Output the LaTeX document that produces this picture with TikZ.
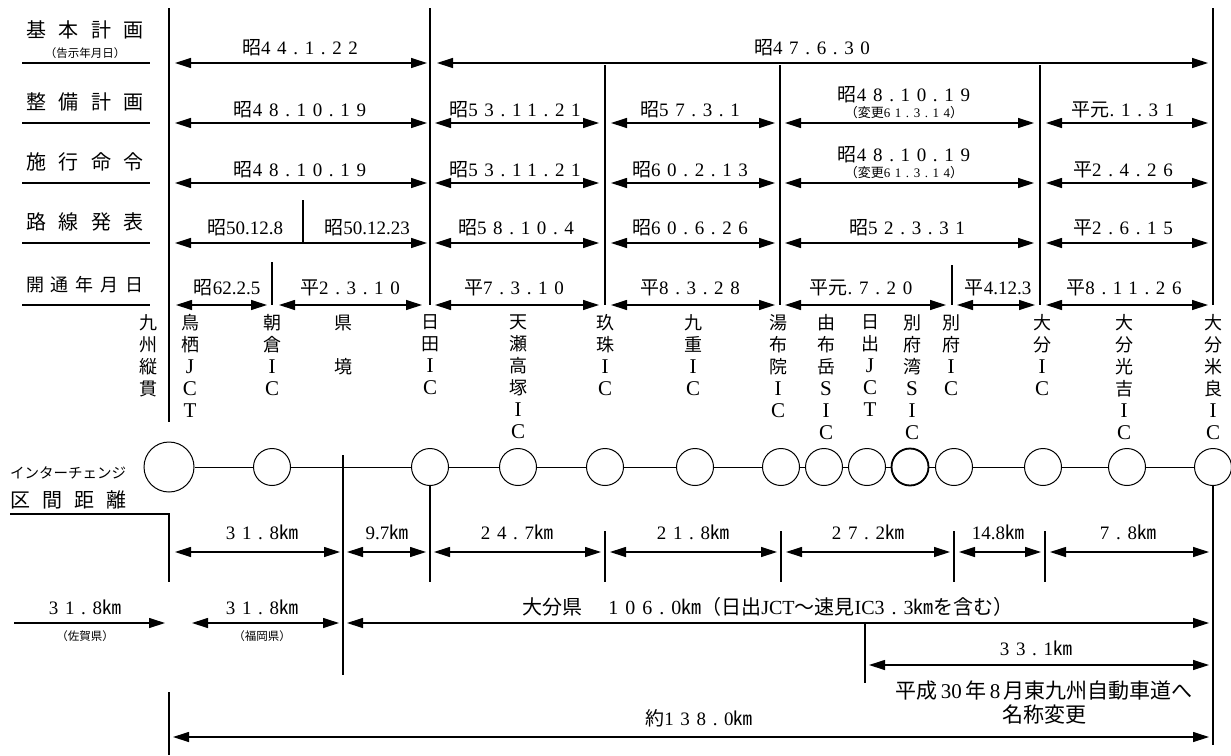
\documentclass[tikz,border=0pt]{standalone}
\usepackage{fontspec}
\setmainfont{Noto Sans CJK JP}
\newfontfamily\sr{Liberation Serif}
\newfontfamily\wide{Liberation Serif}[LetterSpace=35]
\newcommand\latn[1]{{\sr\fontsize{21}{22}\selectfont #1}}
\usetikzlibrary{arrows.meta}

\begin{document}
\begin{tikzpicture}[x=1pt,y=-1pt,line width=1.2pt,
  every node/.style={inner sep=0pt},
  span/.style={{Triangle[length=16pt,width=10pt]}-{Triangle[length=16pt,width=10pt]}},
  oneway/.style={-{Triangle[length=16pt,width=10pt]}},
  date/.style={font=\fontsize{19}{21}\selectfont},
  small/.style={font=\fontsize{11.5}{13}\selectfont},
  head/.style={font=\fontsize{20}{22}\selectfont},
  icname/.style={anchor=north,align=center,font=\fontsize{18}{22}\selectfont},
  ic/.style={draw,circle,minimum size=37pt,line width=1pt}]
\useasboundingbox (0,0) rectangle (1231,755);

% Row labels on the left
\node[head] (lbA) at (85,30) {基\hspace{12pt}本\hspace{12pt}計\hspace{12pt}画};
\node[small] (lbAs) at (85,53) {（告示年月日）};
\node[head] (lbB) at (85,102) {整\hspace{12pt}備\hspace{12pt}計\hspace{12pt}画};
\node[head] (lbC) at (85,162) {施\hspace{12pt}行\hspace{12pt}命\hspace{12pt}令};
\node[head] (lbD) at (85,222) {路\hspace{12pt}線\hspace{12pt}発\hspace{12pt}表};
\node[font=\fontsize{18}{20}\selectfont] (lbE) at (85,285) {開\hspace{7pt}通\hspace{7pt}年\hspace{7pt}月\hspace{7pt}日};
\node[font=\fontsize{14.5}{16}\selectfont] (lbF) at (68,473) {インターチェンジ};
\node[head] (lbG) at (68,500) {区\hspace{12pt}間\hspace{12pt}距\hspace{12pt}離};
\foreach \y in {63,123,183,243,305}
  \draw (22,\y) -- (150,\y);
\draw (10,514) -- (169,514) -- (169,582);

% Long vertical lines
\draw (169,8) -- (169,422);
\draw (430,8) -- (430,305);
\draw (1213,8) -- (1213,305);
\foreach \x in {605,780,1040}
  \draw (\x,65) -- (\x,305);
\draw (303,200) -- (303,243);
\draw (272,262) -- (272,305);
\draw (952,265) -- (952,305);

% Date arrows
\foreach \a/\b/\y in {175/427/63, 437/1208/63,
    175/427/123, 435/599/123, 611/775/123, 785/1034/123, 1046/1208/123,
    175/427/183, 435/599/183, 611/775/183, 785/1034/183, 1046/1208/183,
    175/427/243, 435/599/243, 611/775/243, 785/1034/243, 1046/1208/243,
    176/267/305, 279/422/305, 435/599/305, 611/775/305, 785/946/305, 957/1035/305, 1046/1208/305}
  \draw[span] (\a,\y) -- (\b,\y);

% Dates
\foreach \x/\y/\e/\t in {300/48/昭/44.1.22, 812/48/昭/47.6.30,
    300/110/昭/48.10.19, 515/110/昭/53.11.21, 690/110/昭/57.3.1, 904/95/昭/48.10.19, 1123/110/平元/.1.31,
    300/170/昭/48.10.19, 515/170/昭/53.11.21, 690/170/昭/60.2.13, 904/155/昭/48.10.19, 1123/170/平/2.4.26,
    516/228/昭/58.10.4, 690/228/昭/60.6.26, 907/228/昭/52.3.31, 1123/228/平/2.6.15,
    350/288/平/2.3.10, 514/288/平/7.3.10, 690/288/平/8.3.28, 861/288/平元/.7.20, 1124/288/平/8.11.26}
  \node[date] at (\x,\y) {\e{\wide\t}};
\foreach \x/\y/\e/\t in {245/228/昭/50.12.8, 367/228/昭/50.12.23, 227/288/昭/62.2.5, 998/288/平/4.12.3}
  \node[date] at (\x,\y) {\e{\sr\t}};
\node[small,font=\fontsize{13}{14}\selectfont] (chgB) at (904,113) {（変更{\wide 61.3.14}）};
\node[small,font=\fontsize{13}{14}\selectfont] (chgC) at (904,173) {（変更{\wide 61.3.14}）};

% Interchange names
\foreach \x/\t in {148/{九\\州\\縦\\貫}, 190/{鳥\\栖\\\latn{J}\\\latn{C}\\\latn{T}}, 272/{朝\\倉\\\latn{I}\\\latn{C}}, 343/{県\\[22pt]境},
    430/{日\\田\\\latn{I}\\\latn{C}}, 518/{天\\瀬\\高\\塚\\\latn{I}\\\latn{C}}, 605/{玖\\珠\\\latn{I}\\\latn{C}}, 693/{九\\重\\\latn{I}\\\latn{C}},
    778/{湯\\布\\院\\\latn{I}\\\latn{C}}, 826/{由\\布\\岳\\\latn{S}\\\latn{I}\\\latn{C}}, 870/{日\\出\\\latn{J}\\\latn{C}\\\latn{T}},
    912/{別\\府\\湾\\\latn{S}\\\latn{I}\\\latn{C}}, 951/{別\\府\\\latn{I}\\\latn{C}}, 1042/{大\\分\\\latn{I}\\\latn{C}},
    1124/{大\\分\\光\\吉\\\latn{I}\\\latn{C}}, 1213/{大\\分\\米\\良\\\latn{I}\\\latn{C}}}
  \node[icname] at (\x,314) {\t};

% Interchange circles and the road
\node[ic,minimum size=50pt] (c-tosu) at (169,467) {};
\foreach \n/\x in {asakura/272, hita/430, amase/518, kusu/605, kokonoe/695, yufuin/781, yufudake/824,
    hiji/867, beppuwan/910, beppu/954, oita/1043, mitsuyoshi/1127, mera/1213}
  \node[ic] (c-\n) at (\x,467) {};
\draw[line width=1.8pt] (c-beppuwan) circle[radius=18.5pt];
\foreach \a/\b in {tosu/asakura, asakura/hita, hita/amase, amase/kusu, kusu/kokonoe, kokonoe/yufuin,
    yufuin/yufudake, yufudake/hiji, hiji/beppuwan, beppuwan/beppu, beppu/oita, oita/mitsuyoshi, mitsuyoshi/mera}
  \draw[line width=1pt] (c-\a) -- (c-\b);

% Prefecture border and section ticks
\draw (343,455) -- (343,675);
\draw (c-hita.south) -- (430,582);
\draw (c-mera.south) -- (1213,745);
\foreach \x in {605,781,954,1045}
  \draw (\x,531) -- (\x,582);

% Section distances
\foreach \a/\b in {175/340, 347/426, 434/601, 610/777, 786/950, 959/1041, 1050/1209}
  \draw[span] (\a,552) -- (\b,552);
\foreach \x/\t in {262/31.8, 517/24.7, 693/21.8, 868/27.2, 1128/7.8}
  \node[date] at (\x,532) {{\wide\t}㎞};
\node[date] at (387,532) {{\sr 9.7}㎞};
\node[date] at (998,532) {{\sr 14.8}㎞};

% Prefecture totals
\draw[oneway] (14,623) -- (165,623);
\draw[span] (192,623) -- (339,623);
\draw[span] (347,623) -- (1209,623);
\node[date] at (85,607) {{\wide 31.8}㎞};
\node[small] at (85,636) {（佐賀県）};
\node[date] at (262,607) {{\wide 31.8}㎞};
\node[small] at (262,636) {（福岡県）};
\node[date,font=\fontsize{20}{22}\selectfont] at (768,607) {大分県\hspace{26pt}{\wide 106.0}㎞（日出{\sr JCT}～速見{\sr IC}{\wide 3.3}㎞を含む）};

% Renamed part
\draw (865,622) -- (865,683);
\draw[span] (869,665) -- (1209,665);
\node[date] at (1036,648) {{\wide 33.1}㎞};
\node[font=\fontsize{21}{24}\selectfont,align=center] at (1044,702) {平成{\sr\,30\,}年{\sr\,8\,}月東九州自動車道へ\\名称変更};

% Whole length
\draw (169,692) -- (169,755);
\draw[span] (173,737) -- (1209,737);
\node[date] at (699,718) {約{\wide 138.0}㎞};
\end{tikzpicture}
\end{document}
